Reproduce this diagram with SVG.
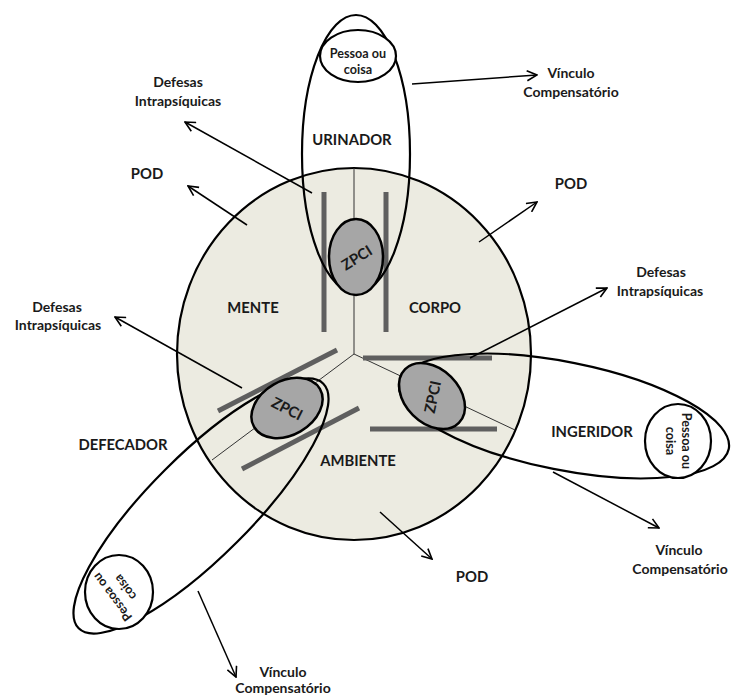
<svg xmlns="http://www.w3.org/2000/svg" width="731" height="698" viewBox="0 0 731 698">
<defs>
<style>
.lbl{font-family:Lato,"Liberation Sans",sans-serif;font-weight:bold;fill:#1a1a1a;text-anchor:middle}
.big{font-size:14.8px}
.med{font-size:14px}
.sm{font-size:12.6px}
.zp{font-size:15px}
.div{stroke:#333;stroke-width:1;fill:none}
.bar{stroke:#5f5f5f;stroke-width:5;fill:none}
.outer{fill:none;stroke:#000;stroke-width:2.2}
.zpci{fill:#a6a6a6;stroke:#000;stroke-width:2.5}
.pc{fill:#fff;stroke:#000;stroke-width:2.2}
.arr{stroke:#000;stroke-width:1.5;fill:none;marker-end:url(#ah)}
</style>
<marker id="ah" viewBox="0 0 12 12" refX="11" refY="6" markerWidth="12" markerHeight="12" markerUnits="userSpaceOnUse" orient="auto">
<path d="M1,1 L11,6 L1,11" fill="none" stroke="#000" stroke-width="1.6"/>
</marker>
</defs>
<rect width="731" height="698" fill="#fff"/>

<g id="circulo">
<ellipse cx="354" cy="354" rx="177" ry="186" fill="#ecebe1" stroke="#000" stroke-width="2.2"/>
<line class="div" x1="354" y1="168" x2="354" y2="354"/>
<line class="div" x1="354" y1="354" x2="212" y2="460"/>
<line class="div" x1="354" y1="354" x2="515" y2="430"/>
<text class="lbl big" x="253" y="313">MENTE</text>
<text class="lbl big" x="435" y="313">CORPO</text>
<text class="lbl big" x="358" y="466">AMBIENTE</text>
</g>

<g id="barras">
<line class="bar" x1="324" y1="192" x2="324" y2="332"/>
<line class="bar" x1="386" y1="192" x2="386" y2="332"/>
<line class="bar" x1="218" y1="411" x2="337" y2="350"/>
<line class="bar" x1="242" y1="469" x2="359" y2="408"/>
<line class="bar" x1="363" y1="358" x2="492" y2="358"/>
<line class="bar" x1="370" y1="429" x2="497" y2="429"/>
</g>

<g id="urinador">
<ellipse class="outer" cx="356" cy="154" rx="54" ry="139"/>
<text class="lbl big" x="352" y="145">URINADOR</text>
</g>
<g id="ingeridor">
<ellipse class="outer" cx="564" cy="416" rx="168" ry="54" transform="rotate(11.3 564 416)"/>
<text class="lbl big" x="592" y="437">INGERIDOR</text>
</g>
<g id="defecador">
<ellipse class="outer" cx="201" cy="506" rx="173" ry="51" transform="rotate(-45 201 506)"/>
<text class="lbl big" x="123" y="450">DEFECADOR</text>
</g>

<g id="zpci-urinador">
<ellipse class="zpci" cx="356" cy="257" rx="27" ry="38"/>
<text class="lbl zp" x="0" y="5" transform="translate(357 258) rotate(-32)">ZPCI</text>
</g>
<g id="zpci-defecador">
<ellipse class="zpci" cx="287" cy="408" rx="38" ry="27" transform="rotate(-30 287 408)"/>
<text class="lbl zp" x="0" y="5" transform="translate(287 409) rotate(27)">ZPCI</text>
</g>
<g id="zpci-ingeridor">
<ellipse class="zpci" cx="432" cy="396" rx="38" ry="27" transform="rotate(45 432 396)"/>
<text class="lbl zp" x="0" y="5" transform="translate(433 397) rotate(-78)">ZPCI</text>
</g>

<g id="pessoa-urinador">
<ellipse class="pc" cx="358" cy="56" rx="38" ry="26"/>
<text class="lbl sm" x="358" y="58">Pessoa ou</text>
<text class="lbl sm" x="358" y="74">coisa</text>
</g>
<g id="pessoa-ingeridor">
<ellipse class="pc" cx="678" cy="441" rx="33" ry="37"/>
<g transform="translate(678 441) rotate(90)">
<text class="lbl sm" x="0" y="-4">Pessoa ou</text>
<text class="lbl sm" x="0" y="12">coisa</text>
</g>
</g>
<g id="pessoa-defecador">
<ellipse class="pc" cx="119" cy="592" rx="34" ry="37"/>
<g transform="translate(119 592) rotate(-127)">
<text class="lbl sm" x="0" y="-4">Pessoa ou</text>
<text class="lbl sm" x="0" y="12">coisa</text>
</g>
</g>

<g id="conectores">
<line class="arr" x1="412" y1="84" x2="537" y2="75"/>
<line class="arr" x1="312" y1="193" x2="185" y2="122"/>
<line class="arr" x1="247" y1="225" x2="188" y2="186"/>
<line class="arr" x1="479" y1="242" x2="537" y2="202"/>
<line class="arr" x1="470" y1="358" x2="607" y2="288"/>
<line class="arr" x1="242" y1="388" x2="115" y2="317"/>
<line class="arr" x1="380" y1="512" x2="432" y2="559"/>
<line class="arr" x1="553" y1="472" x2="659" y2="528"/>
<line class="arr" x1="198" y1="591" x2="236" y2="677"/>
</g>

<g id="rotulos">
<text class="lbl med" x="571" y="78">Vínculo</text>
<text class="lbl med" x="571" y="97">Compensatório</text>
<text class="lbl med" x="178" y="87">Defesas</text>
<text class="lbl med" x="178" y="106">Intrapsíquicas</text>
<text class="lbl big" x="147" y="179">POD</text>
<text class="lbl big" x="571" y="189">POD</text>
<text class="lbl med" x="661" y="277">Defesas</text>
<text class="lbl med" x="660" y="296">Intrapsíquicas</text>
<text class="lbl med" x="57" y="312">Defesas</text>
<text class="lbl med" x="58" y="330">Intrapsíquicas</text>
<text class="lbl big" x="472" y="582">POD</text>
<text class="lbl med" x="679" y="555">Vínculo</text>
<text class="lbl med" x="680" y="574">Compensatório</text>
<text class="lbl med" x="283" y="677">Vínculo</text>
<text class="lbl med" x="283" y="693">Compensatório</text>
</g>
</svg>
